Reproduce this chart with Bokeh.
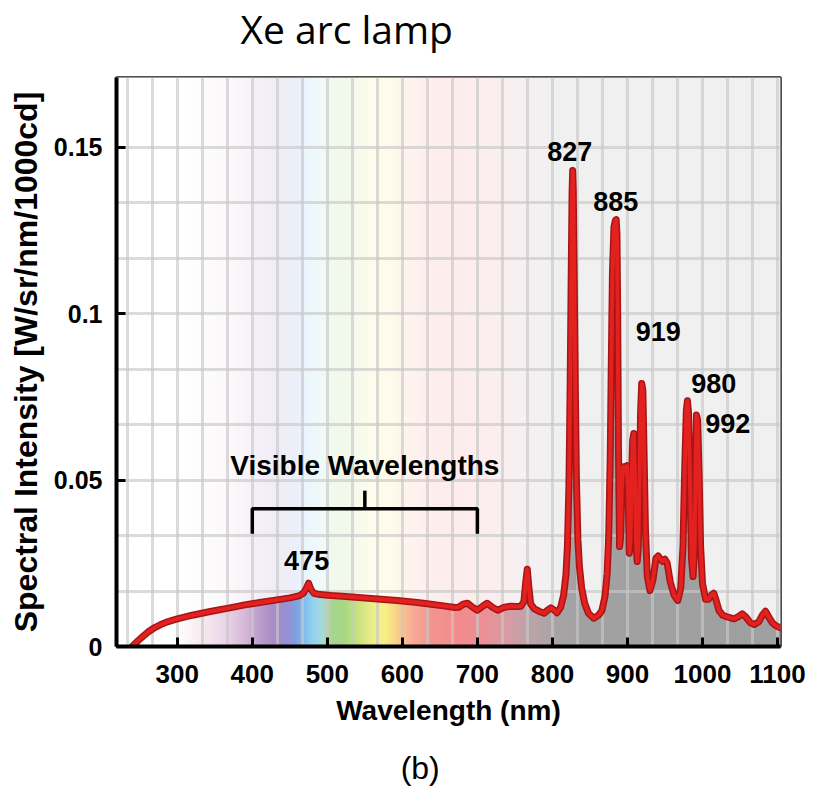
import numpy as np
from bokeh.plotting import figure
from bokeh.layouts import column
from bokeh.models import FixedTicker
from bokeh.core.properties import value
from bokeh.embed import file_html
from bokeh.resources import INLINE

# ---- Xe arc lamp spectrum (wavelength in nm, intensity in W/sr/nm/1000cd) ----
# UV / visible continuum
continuum_nm = [240, 248, 255, 262, 270, 278, 288, 300, 320, 344,
                370, 390, 410, 433, 450, 462, 468, 472, 475, 478,
                482, 490, 505, 520, 550, 593, 620, 638, 655, 670]
continuum_val = [0.0, 0.0018, 0.0032, 0.0045, 0.0057, 0.0066, 0.0075, 0.0083, 0.0094, 0.0105,
                 0.0116, 0.0125, 0.0132, 0.0140, 0.0146, 0.0152, 0.0160, 0.0175, 0.0190, 0.0172,
                 0.0160, 0.0156, 0.0153, 0.0151, 0.0146, 0.0138, 0.0132, 0.0127, 0.0122, 0.0117]

# red edge and the 827 nm line
red_nm = [675, 681, 687, 693, 700, 707, 713, 720, 727, 735,
          744, 752, 758, 762, 764.5, 766.5, 768.5, 771, 776, 782,
          789, 794, 798, 802, 806, 811, 815, 818, 820, 822,
          823.5, 825, 826.2, 827, 827.8, 829, 830.5, 832, 834, 836,
          839, 843, 848, 855, 861, 866]
red_val = [0.0118, 0.0127, 0.0130, 0.0119, 0.0109, 0.0121, 0.0130, 0.0118, 0.0109, 0.0117,
           0.0121, 0.0120, 0.0121, 0.0135, 0.0195, 0.0232, 0.0180, 0.0128, 0.0113, 0.0106,
           0.0100, 0.0110, 0.0116, 0.0110, 0.0101, 0.0118, 0.0155, 0.0215, 0.0300, 0.0480,
           0.0750, 0.1100, 0.1360, 0.1430, 0.1370, 0.1120, 0.0780, 0.0500, 0.0320, 0.0240,
           0.0175, 0.0130, 0.0100, 0.0085, 0.0093, 0.0108]

# 885-960 nm line cluster
cluster_nm = [870, 873, 875, 877, 878.5, 880, 882, 884, 885, 886,
              887, 888, 889.5, 891, 892.5, 894.5, 897, 899.5, 901, 902.5,
              904, 905.5, 907, 908.5, 910, 911.5, 913, 914.5, 916, 917.5,
              919, 920.5, 922, 924, 926.5, 930, 934, 938, 941, 944,
              947, 950, 953, 957, 962, 967]
cluster_val = [0.0150, 0.0220, 0.0330, 0.0560, 0.0850, 0.1120, 0.1260, 0.1280, 0.1282, 0.1240,
               0.1000, 0.0600, 0.0300, 0.0330, 0.0480, 0.0540, 0.0525, 0.0543, 0.0450, 0.0280,
               0.0320, 0.0500, 0.0620, 0.0640, 0.0500, 0.0310, 0.0255, 0.0300, 0.0480, 0.0700,
               0.0790, 0.0770, 0.0600, 0.0350, 0.0210, 0.0168, 0.0200, 0.0265, 0.0272, 0.0262,
               0.0256, 0.0262, 0.0250, 0.0195, 0.0155, 0.0138]

# 980 / 992 nm doublet and the near-IR tail
tail_nm = [971, 974, 976.5, 978.5, 980, 981.5, 983.5, 985.5, 987.5, 989.5,
           991, 992, 993.5, 995.5, 997.5, 1000, 1004, 1008, 1012, 1015,
           1018, 1022, 1027, 1034, 1042, 1048, 1053, 1058, 1064, 1069,
           1075, 1080, 1084, 1088, 1093, 1098, 1104]
tail_val = [0.0175, 0.0300, 0.0550, 0.0710, 0.0738, 0.0700, 0.0480, 0.0260, 0.0210, 0.0300,
            0.0560, 0.0695, 0.0680, 0.0520, 0.0300, 0.0190, 0.0142, 0.0142, 0.0155, 0.0160,
            0.0140, 0.0108, 0.0094, 0.0088, 0.0083, 0.0090, 0.0098, 0.0088, 0.0071, 0.0066,
            0.0074, 0.0095, 0.0106, 0.0090, 0.0072, 0.0062, 0.0056]

# labelled emission peaks
peak_nm = [475, 827, 885, 919, 980, 992]
peak_text = ["475", "827", "885", "919", "980", "992"]

visible_range = [400, 700]

x_ticks = [300, 400, 500, 600, 700, 800, 900, 1000, 1100]
y_ticks = [0, 0.05, 0.1, 0.15]
y_tick_text = ["0", "0.05", "0.1", "0.15"]

heading = "Xe arc lamp"
panel_tag = "(b)"

# ---- styling ----
W = 819
X_MIN, X_MAX = 219, 1104
Y_MAX = 0.1709
BOLD_FONT = "Liberation Sans"
BORDER_L, BORDER_R = 116, 39

# colour of the spectrum band painted under the curve
band_stops = [(219, "#ffffff"), (300, "#ffffff"), (335, "#f6eaf0"), (365, "#ead4e6"),
              (390, "#d6b8d8"), (410, "#bc9ccc"), (430, "#a88cc8"), (445, "#9890d4"),
              (458, "#82a0e0"), (468, "#80bced"), (480, "#90d2f0"), (493, "#a8dcd8"),
              (502, "#a8d898"), (520, "#a4d684"), (540, "#c8e282"), (560, "#eeee88"),
              (578, "#faee86"), (595, "#f8cc8a"), (615, "#f8aa98"), (640, "#f49490"),
              (680, "#f28c8c"), (710, "#ec9098"), (740, "#d89ca4"), (770, "#bca4aa"),
              (800, "#aaa4a6"), (840, "#a2a2a2"), (1104, "#a0a0a0")]

nm = continuum_nm + red_nm + cluster_nm + tail_nm
val = continuum_val + red_val + cluster_val + tail_val
lookup = dict(zip(nm, val))


def text_strip(height, label, x_nm, y_mid, font, size):
    """A bare strip (no axes) sharing the spectrum's x scale, carrying one line of text."""
    f = figure(width=W, height=height, x_range=(X_MIN, X_MAX), y_range=(0, height),
               x_axis_type=None, y_axis_type=None, title=None, output_backend="svg",
               toolbar_location=None, min_border_left=BORDER_L, min_border_right=BORDER_R,
               min_border_top=0, min_border_bottom=0)
    f.outline_line_color = None
    f.background_fill_color = "white"
    f.border_fill_color = "white"
    f.text(x=[x_nm], y=[y_mid], text=[label], text_font=value(font), text_font_size=size,
           text_font_style="normal", text_color="black", text_align="left",
           text_baseline="middle")
    return f


top = text_strip(74, heading, 384.3, 46, "Open Sans", "39px")

p = figure(width=W, height=667, x_range=(X_MIN, X_MAX), y_range=(0, Y_MAX),
           output_backend="svg", toolbar_location=None,
           min_border_left=BORDER_L, min_border_right=BORDER_R, min_border_top=3,
           min_border_bottom=95)
p.background_fill_color = "white"
p.border_fill_color = "white"
p.outline_line_color = "#505050"
p.outline_line_width = 3

# spectrum band, one column per nm
ncol = X_MAX - X_MIN
cols = np.linspace(X_MIN, X_MAX, ncol)
s_nm = [s[0] for s in band_stops]
s_rgb = np.array([[int(s[1][i:i + 2], 16) for i in (1, 3, 5)] for s in band_stops], dtype=float)
img = np.empty((1, ncol), dtype=np.uint32)
view = img.view(dtype=np.uint8).reshape((1, ncol, 4))
for ch in range(3):
    view[0, :, ch] = np.interp(cols, s_nm, s_rgb[:, ch]).astype(np.uint8)
view[0, :, 3] = 255
p.image_rgba(image=[img], x=X_MIN, y=0, dw=X_MAX - X_MIN, dh=Y_MAX, level="image")

# wash out everything above the curve
wash_x = [X_MIN] + nm + [X_MAX, X_MIN]
wash_y = [0] + val + [Y_MAX, Y_MAX]
p.patch(wash_x, wash_y, fill_color="white", fill_alpha=0.84, line_color=None, level="image")

# grid
p.xgrid.ticker = FixedTicker(ticks=list(np.arange(7, 34) * 100.0 / 3.0))
p.ygrid.ticker = FixedTicker(ticks=list(np.arange(1, 10) * 0.05 / 3.0))
for g in (p.xgrid, p.ygrid):
    g.grid_line_color = "#c8c8c8"
    g.grid_line_alpha = 0.65
    g.grid_line_width = 3

# spectrum curve
p.line(nm, val, line_color="#a51517", line_width=7, line_join="round", line_cap="round")
p.line(nm, val, line_color="#e3211f", line_width=4, line_join="round", line_cap="round")

# visible-range bracket
v0, v1 = visible_range
vmid = (v0 + v1) / 2
p.line([v0, v0, v1, v1], [0.0339, 0.0414, 0.0414, 0.0339], line_color="black", line_width=3.5)
p.line([vmid, vmid], [0.0414, 0.0468], line_color="black", line_width=3.5)
p.text(x=[vmid], y=[0.0544], text=["Visible Wavelengths"], text_font=value(BOLD_FONT),
       text_font_style="bold", text_font_size="28px", text_align="center",
       text_baseline="middle", text_color="black")

# peak labels, nudged off their peaks
nudge_x = [-2.6, -3.9, -0.6, 22, 35, 41.7]
nudge_y = [0.0068, 0.0058, 0.0056, 0.0157, 0.0053, -0.0026]
lab_x = [pk + dx for pk, dx in zip(peak_nm, nudge_x)]
lab_y = [lookup[pk] + dy for pk, dy in zip(peak_nm, nudge_y)]
p.text(x=lab_x, y=lab_y, text=peak_text, text_font=value(BOLD_FONT), text_font_style="bold",
       text_font_size="27px", text_align="center", text_baseline="middle", text_color="black")

# axes
for ax in (p.xaxis, p.yaxis):
    ax.axis_line_width = 4
    ax.axis_line_color = "black"
    ax.major_tick_in = 9
    ax.major_tick_out = 0
    ax.major_tick_line_width = 3
    ax.major_tick_line_color = "black"
    ax.minor_tick_line_color = None
    ax.major_label_text_font = BOLD_FONT
    ax.major_label_text_font_style = "bold"
    ax.major_label_text_color = "black"
    ax.axis_label_text_font = BOLD_FONT
    ax.axis_label_text_font_style = "bold"
    ax.axis_label_text_color = "black"

p.xaxis.ticker = FixedTicker(ticks=x_ticks)
p.xaxis.major_label_text_font_size = "26px"
p.xaxis.major_label_standoff = 18
p.xaxis.axis_label = "Wavelength (nm)"
p.xaxis.axis_label_text_font_size = "28px"
p.xaxis.axis_label_standoff = 9

p.yaxis.ticker = FixedTicker(ticks=y_ticks)
p.yaxis.major_label_overrides = dict(zip(y_ticks, y_tick_text))
p.yaxis.major_label_text_font_size = "25px"
p.yaxis.major_label_standoff = 14
p.yaxis.axis_label = "Spectral Intensity [W/sr/nm/1000cd]"
p.yaxis.axis_label_text_font_size = "32px"
p.yaxis.axis_label_standoff = 7

bottom = text_strip(46, panel_tag, 597.7, 20, BOLD_FONT, "32px")

open("out.html", "w").write(file_html(column(top, p, bottom), INLINE))
